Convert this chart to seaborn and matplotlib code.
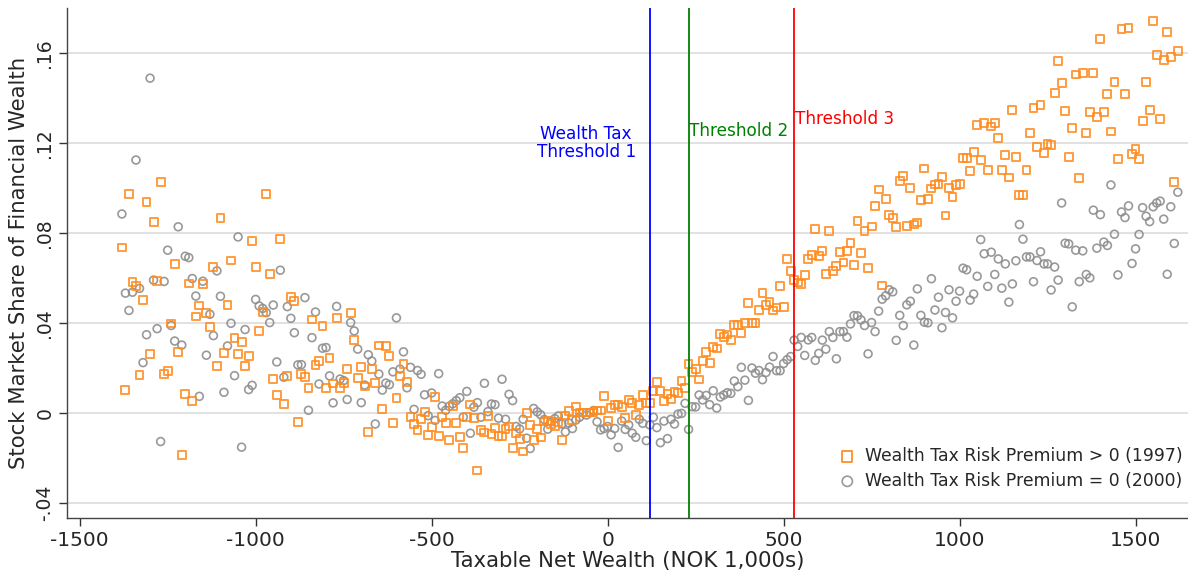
import numpy as np
import pandas as pd
import matplotlib
matplotlib.use("Agg")
import matplotlib.pyplot as plt
import seaborn as sns

# ---- data (values in thousandths of financial wealth) ----
wealth_bins = np.arange(-1380, 1621, 10)  # taxable net wealth bins, NOK 1,000s

premium_pos_1997 = [
    73.5, 10.3, 97.2, 58.1, 56.3, 16.9, 50.2, 93.7, 26.0, 85.0,
    58.5, 102.6, 17.4, 18.4, 39.7, 66.1, 26.9, -18.7, 8.4, 57.5,
    5.1, 42.8, 47.7, 57.3, 44.3, 38.1, 64.9, 20.7, 86.5, 26.6,
    47.8, 67.7, 33.4, 26.0, 31.5, 20.8, 25.4, 76.3, 64.8, 36.4,
    44.7, 97.3, 61.7, 15.0, 8.0, 77.4, 4.0, 16.5, 51.6, 49.8,
    -4.2, 17.4, 15.9, 11.0, 41.5, 21.4, 23.0, 38.6, 11.0, 24.2,
    13.0, 42.0, 10.9, 13.3, 19.6, 44.4, 32.3, 15.6, 20.2, 11.7,
    -8.5, 19.3, 13.2, 29.9, 1.8, 29.5, 25.2, -4.4, 6.7, 16.5,
    21.6, 13.8, -1.7, -5.1, -7.7, -2.8, 0.2, -9.9, -6.3, 7.1,
    -10.3, -2.0, -4.4, -12.1, 3.1, -4.4, -10.6, -15.5, -1.9, 3.7,
    -2.3, -25.7, -7.5, -8.8, -1.4, -9.5, -6.6, -10.3, -10.3, -7.3,
    -6.1, -15.6, -9.0, -11.7, -17.2, -0.2, -5.4, -12.0, -7.2, -11.0,
    -3.9, -3.5, -5.1, -5.7, -4.0, -12.3, -1.2, 0.7, -3.2, 2.8,
    0.1, 0.1, 0.1, 0.1, 0.1, 1.0, 1.0, 7.3, -3.5, 2.0,
    3.5, 3.7, 2.7, -2.2, 5.7, 4.2, -1.0, 3.4, 7.9, 4.2,
    4.5, 9.5, 13.5, 9.5, 5.1, 8.5, 6.0, 9.1, 8.9, 14.3,
    11.0, 21.6, 18.1, 19.6, 14.8, 23.0, 27.1, 22.1, 29.3, 28.6,
    35.1, 33.8, 34.8, 32.3, 39.0, 39.0, 35.6, 40.0, 48.9, 40.0,
    40.0, 45.8, 53.3, 48.1, 49.2, 45.5, 46.8, 56.4, 46.9, 68.4,
    62.9, 59.1, 57.9, 57.2, 61.3, 68.4, 70.2, 81.9, 69.9, 72.1,
    61.7, 80.7, 63.2, 65.1, 71.5, 66.8, 72.1, 75.5, 65.9, 85.4,
    71.1, 80.7, 64.3, 82.8, 91.8, 99.3, 56.6, 94.9, 87.8, 86.6,
    82.5, 102.9, 105.1, 83.1, 99.8, 83.7, 84.6, 94.5, 108.6, 95.1,
    99.7, 101.5, 101.7, 105.0, 87.7, 99.8, 96.1, 101.2, 101.7, 113.4,
    113.4, 107.4, 115.8, 127.8, 112.4, 128.8, 108.1, 127.3, 128.8, 122.3,
    107.8, 114.6, 104.6, 134.6, 113.7, 96.9, 96.9, 107.8, 124.5, 135.5,
    118.0, 136.7, 115.5, 119.5, 119.1, 142.2, 156.5, 146.6, 134.2, 113.7,
    126.5, 150.4, 104.4, 151.2, 124.4, 133.9, 151.2, 131.7, 166.1, 133.9,
    141.9, 125.1, 147.2, 113.0, 170.7, 141.6, 171.0, 115.1, 117.2, 112.7,
    129.9, 147.2, 134.6, 174.3, 159.0, 130.5, 157.0, 169.5, 158.1, 102.8, 160.9,
]

premium_zero_2000 = [
    88.4, 53.2, 45.5, 53.6, 112.4, 55.3, 22.3, 34.7, 148.8, 59.0,
    37.4, -12.8, 58.4, 72.3, 38.8, 31.9, 82.7, 30.1, 69.6, 69.0,
    59.7, 51.9, 7.3, 58.5, 25.6, 43.8, 34.3, 63.1, 51.8, 9.1,
    29.7, 39.8, 16.5, 78.2, -15.3, 37.0, 10.3, 12.2, 50.4, 47.5,
    46.4, 44.5, 40.1, 47.9, 22.6, 63.4, 15.8, 47.2, 42.0, 35.6,
    21.3, 21.4, 51.2, 1.1, 33.4, 44.8, 12.8, 28.7, 29.0, 16.4,
    4.4, 47.3, 15.0, 14.3, 5.9, 40.1, 36.4, 28.3, 4.5, 12.3,
    25.8, 23.0, -5.0, 17.2, 10.1, 13.2, 12.5, 18.2, 42.2, 19.4,
    27.1, 11.1, 20.2, 1.5, 18.8, 17.1, 8.0, -1.3, 8.8, -3.4,
    17.4, 3.0, 1.1, 2.9, 4.0, 5.4, 6.7, -1.9, 9.5, -9.1,
    2.5, 4.5, -2.0, 13.1, 0.5, 3.9, 3.6, -2.4, 14.9, -2.9,
    8.2, 5.4, -6.1, -7.2, -2.9, -11.3, -15.9, 1.9, 0.4, -0.9,
    -3.0, -7.3, -3.9, -2.6, -1.4, -5.0, -8.5, -4.6, -7.0, -3.2,
    -2.0, 0.0, -1.0, 0.0, 1.0, -4.0, -7.6, -7.0, -6.1, -9.8,
    -7.0, -15.4, -3.7, -7.4, -5.4, -9.1, -10.9, -2.9, -4.7, -12.4,
    -5.4, -2.0, -6.6, -13.3, -3.7, -11.5, -2.9, -5.0, -0.6, -0.3,
    4.2, -7.4, 2.7, 2.6, 7.9, 5.7, 7.7, 3.6, 9.8, 2.1,
    7.0, 7.9, 8.9, 8.6, 14.1, 11.6, 20.2, 14.5, 5.5, 19.9,
    17.6, 18.8, 14.7, 17.9, 20.3, 25.0, 18.7, 18.7, 21.9, 23.6,
    25.0, 32.3, 29.5, 33.5, 25.5, 32.4, 33.5, 23.3, 26.4, 32.3,
    28.3, 36.1, 33.5, 24.0, 36.1, 36.1, 33.6, 39.5, 43.2, 43.1,
    41.3, 38.8, 26.2, 40.1, 36.1, 45.2, 50.5, 52.0, 54.7, 53.8,
    32.2, 43.3, 38.8, 48.0, 49.6, 30.1, 55.1, 43.3, 40.3, 40.0,
    59.6, 45.7, 51.4, 37.8, 44.6, 54.7, 42.2, 49.6, 54.1, 64.3,
    63.6, 50.1, 52.8, 60.7, 77.0, 70.7, 56.2, 71.4, 61.5, 68.4,
    55.4, 66.2, 49.2, 57.3, 67.6, 83.7, 77.2, 69.3, 69.3, 58.3,
    67.7, 71.6, 66.2, 66.2, 54.6, 64.8, 59.0, 93.3, 75.4, 75.1,
    47.1, 72.3, 58.3, 72.0, 61.5, 60.0, 90.1, 73.2, 88.1, 75.9,
    74.4, 101.3, 79.4, 61.3, 89.3, 86.8, 92.0, 66.4, 72.9, 79.3,
    91.2, 87.4, 85.0, 91.6, 93.3, 94.1, 86.1, 61.6, 91.6, 75.3, 98.1,
]

series_labels = ["Wealth Tax Risk Premium > 0 (1997)", "Wealth Tax Risk Premium = 0 (2000)"]
thresholds = [120, 230, 530]
threshold_labels = ["Wealth Tax\nThreshold 1", "Threshold 2", "Threshold 3"]
y_ticks = [-0.04, 0.0, 0.04, 0.08, 0.12, 0.16]
y_tick_labels = ["-.04", "0", ".04", ".08", ".12", ".16"]
x_ticks = [-1500, -1000, -500, 0, 500, 1000, 1500]
x_tick_labels = ["-1500", "-1000", "-500", "0", "500", "1000", "1500"]

df97 = pd.DataFrame({"wealth": wealth_bins, "share": np.array(premium_pos_1997) / 1000})
df00 = pd.DataFrame({"wealth": wealth_bins, "share": np.array(premium_zero_2000) / 1000})

# ---- style ----
sns.set_theme(style="white")
plt.rcParams["font.family"] = ["DejaVu Sans"]
plt.rcParams["axes.unicode_minus"] = False

W, H = 1188, 571
fig = plt.figure(figsize=(W / 100, H / 100), dpi=100)
ax = fig.add_axes([67 / W, 1 - 518 / H, (W - 67) / W, (518 - 8) / H])

orange = "#FF8C1F"
grey = "#8E8E8E"

ax.set_axisbelow(True)
ax.yaxis.grid(True, color="#DCDCDC", linewidth=1.2)
ax.xaxis.grid(False)

sns.scatterplot(data=df97, x="wealth", y="share", ax=ax, marker="s", s=32,
                facecolor="none", edgecolor=orange, color=orange, linewidth=1.4,
                alpha=0.85, label=series_labels[0], zorder=3)
sns.scatterplot(data=df00, x="wealth", y="share", ax=ax, marker="o", s=32,
                facecolor="none", edgecolor=grey, color=grey, linewidth=1.2,
                alpha=0.9, label=series_labels[1], zorder=2)

line_colors = ["#0000FF", "#008000", "#FF0000"]
for xv, c in zip(thresholds, line_colors):
    ax.axvline(xv, color=c, linewidth=1.3, zorder=4)

ax.text(thresholds[0] - 40, 0.1199, threshold_labels[0], color=line_colors[0],
        ha="right", va="center", multialignment="center", fontsize=12.2, linespacing=1.0)
ax.text(thresholds[1] + 2, 0.1252, threshold_labels[1], color=line_colors[1],
        ha="left", va="center", fontsize=12.2)
ax.text(thresholds[2] + 2, 0.1305, threshold_labels[2], color=line_colors[2],
        ha="left", va="center", fontsize=12.2)

ax.set_xlim(-1536, 1649)
ax.set_ylim(-0.0468, 0.18)
ax.set_xticks(x_ticks)
ax.set_xticklabels(x_tick_labels, fontsize=14.5)
ax.set_yticks(y_ticks)
ax.set_yticklabels(y_tick_labels, fontsize=13.5, rotation=90, va="center")
ax.tick_params(axis="both", direction="out", length=6, width=1, color="#333333",
               bottom=True, left=True, pad=3)
ax.set_xlabel("Taxable Net Wealth (NOK 1,000s)", fontsize=15.3, labelpad=1)
ax.set_ylabel("Stock Market Share of Financial Wealth", fontsize=15.3, labelpad=5)

for side in ["top", "right"]:
    ax.spines[side].set_visible(False)
for side in ["left", "bottom"]:
    ax.spines[side].set_color("#444444")
    ax.spines[side].set_linewidth(1.0)

leg = ax.legend(loc="lower right", bbox_to_anchor=(1.004, 0.035), frameon=False,
                fontsize=12.4, handlelength=1.0, handletextpad=0.5, labelspacing=0.4,
                borderaxespad=0.2, markerscale=1.3)
for h in leg.legend_handles:
    h.set_alpha(0.9)

fig.savefig("out.png", dpi=100)
